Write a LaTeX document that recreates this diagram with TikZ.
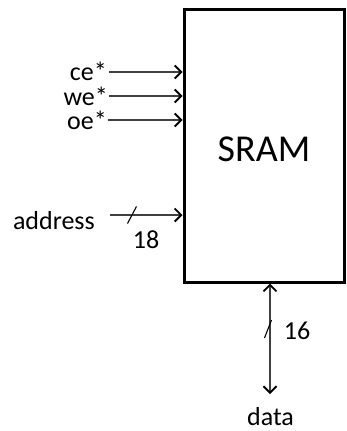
\documentclass[tikz,border=0pt]{standalone}
\usepackage{fontspec}
\setmainfont{Carlito}
\usetikzlibrary{arrows.meta, positioning}

\begin{document}
\begin{tikzpicture}[x=1pt, y=-1pt,
    sig/.style={-{Straight Barb[length=6.5pt, width=13pt, line width=1.9pt, color=black]}, line width=1.1pt, black!75},
    bus/.style={{Straight Barb[length=6.5pt, width=13pt, line width=1.9pt, color=black]}-{Straight Barb[length=6.5pt, width=13pt, line width=1.9pt, color=black]}, line width=1.1pt, black!75},
    lbl/.style={font=\fontsize{26}{26}\selectfont, inner sep=0pt},
]
    \useasboundingbox (0,0) rectangle (346,431);

    % Memory block
    \node[draw, line width=3pt, minimum width=160pt, minimum height=273pt, inner sep=0pt] (sram) at (264, 145.5) {};
    \node[font=\fontsize{38}{38}\selectfont, inner sep=0pt] (name) at (264, 149) {SRAM};

    % Control inputs
    \node[lbl, anchor=base east] (ce) at (107, 80) {ce*};
    \node[lbl, anchor=base east] (we) at (108, 105) {we*};
    \node[lbl, anchor=base east] (oe) at (107, 129.5) {oe*};
    \coordinate (ceS) at (109, 72);
    \coordinate (weS) at (109, 96);
    \coordinate (oeS) at (108, 120);
    \draw[sig] (ceS) -- (ceS -| sram.west);
    \draw[sig] (weS) -- (weS -| sram.west);
    \draw[sig] (oeS) -- (oeS -| sram.west);

    % Address bus
    \node[lbl, anchor=base east] (addr) at (95, 229) {address};
    \coordinate (addrS) at (110, 215);
    \coordinate (addrCut) at (132, 215);
    \draw[sig] (addrS) -- (addrS -| sram.west);
    \draw[line width=1.1pt] ([shift={(-4.5,8.5)}]addrCut) -- ([shift={(4.5,-8.5)}]addrCut);
    \node[lbl] (aw) at (146, 239.5) {18};

    % Data bus
    \coordinate (dataE) at (270, 394);
    \coordinate (dataCut) at (268, 329);
    \draw[bus] (dataE |- sram.south) -- (dataE);
    \draw[line width=1.1pt] ([shift={(-3.5,9)}]dataCut) -- ([shift={(3.5,-9)}]dataCut);
    \node[lbl] (dw) at (297, 331) {16};
    \node[lbl, anchor=base] (data) at (270.5, 425) {data};
\end{tikzpicture}
\end{document}
